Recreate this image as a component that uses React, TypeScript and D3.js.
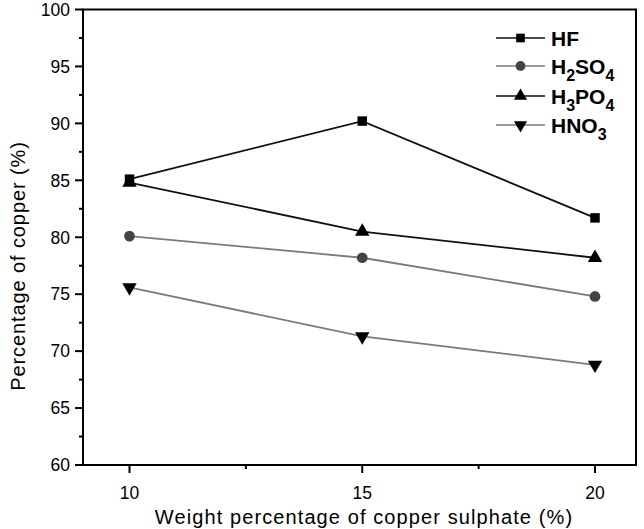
import React from "react";
import * as d3 from "d3";

const loadings = [10, 15, 20];
const hf = [85.1, 90.2, 81.7];
const h2so4 = [80.1, 78.2, 74.8];
const h3po4 = [84.8, 80.5, 78.2];
const hno3 = [75.6, 71.3, 68.8];
const yTicks = [60, 65, 70, 75, 80, 85, 90, 95, 100];
const xTicks = [10, 15, 20];

const series = [
  { key: "HF", base: "HF", sub: "", tail: "", end: "", values: hf, line: "#111", fill: "#000", shape: d3.symbolSquare },
  { key: "H2SO4", base: "H", sub: "2", tail: "SO", end: "4", values: h2so4, line: "#7a7a7a", fill: "#444", shape: d3.symbolCircle },
  { key: "H3PO4", base: "H", sub: "3", tail: "PO", end: "4", values: h3po4, line: "#111", fill: "#000", shape: d3.symbolTriangle },
  { key: "HNO3", base: "HNO", sub: "3", tail: "", end: "", values: hno3, line: "#7a7a7a", fill: "#000", shape: d3.symbolTriangle, flip: true },
];

const W = 644;
const H = 529;
const left = 83;
const right = 636;
const top = 9.5;
const bottom = 465;

export default function App() {
  const x = d3.scaleLinear().domain([10, 20]).range([129.5, 595]);
  const y = d3.scaleLinear().domain([60, 100]).range([bottom, top]);
  const line = d3
    .line<number>()
    .x((_, i) => x(loadings[i]))
    .y((d) => y(d));
  const font = "'Liberation Sans', Arial, sans-serif";
  const minorY = d3.range(62.5, 100, 5);
  const minorX = [12.5, 17.5];
  const legendY = [38, 66, 96, 125];

  const marker = (s: any, size: number) =>
    d3.symbol().type(s.shape).size(size)() as string;

  return (
    <svg width={W} height={H} style={{ position: "absolute", left: 0, top: 0, background: "#fff" }} fontFamily={font}>
      {/* frame */}
      <rect x={left} y={top} width={right - left} height={bottom - top} fill="none" stroke="#000" strokeWidth={2} />

      {/* y ticks */}
      {yTicks.map((t) => (
        <g key={"y" + t}>
          <line x1={left - 8} x2={left} y1={y(t)} y2={y(t)} stroke="#000" strokeWidth={2} />
          <text x={left - 13} y={y(t)} dy="0.36em" textAnchor="end" fontSize={17.5}>
            {t}
          </text>
        </g>
      ))}
      {minorY.map((t) => (
        <line key={"my" + t} x1={left - 4} x2={left} y1={y(t)} y2={y(t)} stroke="#000" strokeWidth={2} />
      ))}

      {/* x ticks */}
      {xTicks.map((t) => (
        <g key={"x" + t}>
          <line x1={x(t)} x2={x(t)} y1={bottom} y2={bottom + 8} stroke="#000" strokeWidth={2} />
          <text x={x(t)} y={bottom + 34} textAnchor="middle" fontSize={17.5}>
            {t}
          </text>
        </g>
      ))}
      {minorX.map((t) => (
        <line key={"mx" + t} x1={x(t)} x2={x(t)} y1={bottom} y2={bottom + 4} stroke="#000" strokeWidth={2} />
      ))}

      {/* axis titles */}
      <text x={364} y={524} textAnchor="middle" fontSize={20} letterSpacing={1.1}>
        Weight percentage of copper sulphate (%)
      </text>
      <text transform={`translate(25,${266}) rotate(-90)`} textAnchor="middle" fontSize={20} letterSpacing={0.9}>
        Percentage of copper (%)
      </text>

      {/* series */}
      {series.map((s) => (
        <g key={s.key}>
          <path d={line(s.values) as string} fill="none" stroke={s.line} strokeWidth={1.8} />
          {s.values.map((v, i) => (
            <path
              key={i}
              d={marker(s, 90)}
              transform={`translate(${x(loadings[i])},${y(v)})${s.flip ? " rotate(180)" : ""}`}
              fill={s.fill}
            />
          ))}
        </g>
      ))}

      {/* legend */}
      {series.map((s, i) => (
        <g key={"l" + s.key} transform={`translate(0,${legendY[i]})`}>
          <line x1={496} x2={545} y1={0} y2={0} stroke={s.line} strokeWidth={1.6} />
          <path d={marker(s, 75)} transform={`translate(520.5,0)${s.flip ? " rotate(180)" : ""}`} fill={s.fill} />
          <text x={551} y={0} dy="0.36em" fontSize={21} fontWeight="bold">
            {s.base}
            {s.sub && (
              <tspan dy={7} fontSize={16}>
                {s.sub}
              </tspan>
            )}
            {s.tail && <tspan dy={-7}>{s.tail}</tspan>}
            {s.end && (
              <tspan dy={7} fontSize={16}>
                {s.end}
              </tspan>
            )}
          </text>
        </g>
      ))}
    </svg>
  );
}
